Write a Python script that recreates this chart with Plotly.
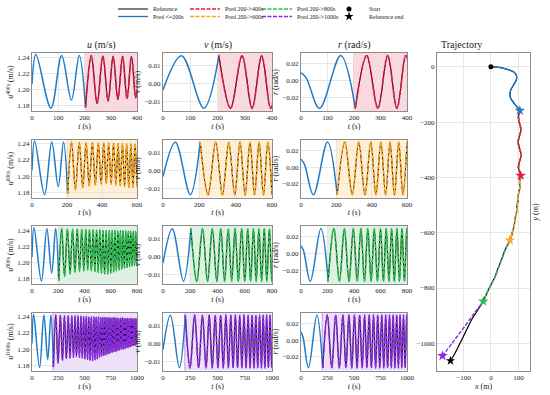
import plotly.graph_objects as go

W, H = 550, 395
FONT = "Liberation Serif, Times New Roman, serif"

# ---------------- data ----------------
horizons = [400, 600, 800, 1000]
pred_start = 200
pred_names = ["Pred 200->400s", "Pred 200->600s", "Pred 200->800s", "Pred 200->1000s"]
pred_colors = ["#e8194a", "#ffa61a", "#2dc04f", "#8a2be2"]
shade_colors = ["rgba(224,23,63,0.17)", "rgba(255,161,10,0.17)",
                "rgba(43,176,74,0.16)", "rgba(138,43,226,0.15)"]
edge_colors = ["rgba(224,23,63,0.45)", "rgba(255,161,10,0.45)",
               "rgba(43,176,74,0.45)", "rgba(138,43,226,0.45)"]
blue = "#1f7bc8"
row_xticks = [[0, 100, 200, 300, 400], [0, 200, 400, 600],
              [0, 200, 400, 600, 800], [0, 250, 500, 750, 1000]]
horizon_tags = ["400s", "600s", "800s", "1000s"]

# surge u (m/s): start, peaks, troughs
u_start_t = [0]
u_start_v = [1.207]
u_peak_t = [15, 113, 180, 226, 270, 309, 345, 379,
            410, 438, 466, 492, 517, 541, 565, 589,
            611, 633, 654, 674, 694, 714, 734, 752,
            772, 790, 808, 826, 844, 861, 878, 895,
            911, 927, 943, 959, 975, 990, 1006]
u_peak_v = [1.2435, 1.2425, 1.2425, 1.2422, 1.2418, 1.2415, 1.2413, 1.2412,
            1.2410, 1.2410, 1.2408, 1.2405, 1.2405, 1.2402, 1.2400, 1.2400,
            1.2398, 1.2398, 1.2396, 1.2395, 1.2395, 1.2393, 1.2392, 1.2390,
            1.2390, 1.2388, 1.2388, 1.2386, 1.2385, 1.2385, 1.2384, 1.2383,
            1.2382, 1.2381, 1.2380, 1.2380, 1.2379, 1.2378, 1.2378]
u_trough_t = [72, 150, 204, 248, 290, 327, 362, 395,
              424, 452, 479, 504, 529, 553, 577, 600,
              622, 643, 664, 684, 704, 724, 743, 762,
              781, 799, 817, 835, 852, 869, 886, 903,
              919, 935, 951, 967, 982, 998]
u_trough_v = [1.177, 1.187, 1.178, 1.183, 1.186, 1.188, 1.189, 1.190,
              1.191, 1.190, 1.189, 1.188, 1.187, 1.186, 1.186, 1.187,
              1.188, 1.190, 1.191, 1.192, 1.193, 1.194, 1.195, 1.196,
              1.197, 1.197, 1.198, 1.199, 1.200, 1.200, 1.201, 1.202,
              1.202, 1.203, 1.204, 1.205, 1.205, 1.206]

# sway v (m/s)
v_start_t = [0]
v_start_v = [-0.0035]
v_peak_t = [68, 205, 290, 362, 424, 479, 529, 577, 622, 664,
            704, 743, 781, 817, 852, 886, 919, 951, 982, 1013]
v_peak_v = [0.0158, 0.0158, 0.0158, 0.0157, 0.0158, 0.0157, 0.0158, 0.0158, 0.0157, 0.0158,
            0.0157, 0.0158, 0.0157, 0.0158, 0.0157, 0.0158, 0.0157, 0.0158, 0.0157, 0.0158]
v_trough_t = [150, 248, 327, 395, 452, 504, 553, 600, 643, 684,
              724, 762, 799, 835, 869, 903, 935, 967, 998]
v_trough_v = [-0.0137, -0.0138, -0.0138, -0.0138, -0.0138, -0.0137, -0.0138, -0.0138, -0.0137, -0.0138,
              -0.0138, -0.0137, -0.0138, -0.0138, -0.0137, -0.0138, -0.0138, -0.0137, -0.0138]

# yaw rate r (rad/s)
r_start_t = [0, 20]
r_start_v = [0.0095, 0.003]
r_peak_t = [150, 248, 327, 395, 452, 504, 553, 600, 643, 684,
            724, 762, 799, 835, 869, 903, 935, 967, 998]
r_peak_v = [0.0302, 0.0302, 0.0301, 0.0302, 0.0301, 0.0302, 0.0302, 0.0301, 0.0302, 0.0301,
            0.0302, 0.0302, 0.0301, 0.0302, 0.0301, 0.0302, 0.0302, 0.0301, 0.0302]
r_trough_t = [70, 205, 290, 362, 424, 479, 529, 577, 622, 664,
              704, 743, 781, 817, 852, 886, 919, 951, 982, 1013]
r_trough_v = [-0.0335, -0.0335, -0.0334, -0.0335, -0.0334, -0.0335, -0.0335, -0.0334, -0.0335, -0.0334,
              -0.0335, -0.0335, -0.0334, -0.0335, -0.0334, -0.0335, -0.0335, -0.0334, -0.0335, -0.0334]

# trajectory (m)
traj_blue_x = [0, 30, 63, 85, 93, 92, 82, 72, 69, 73, 81, 93, 105]
traj_blue_y = [0, -2, -10, -20, -33, -48, -66, -84, -102, -116, -127, -143, -158]
traj_red_x = [105, 100, 104, 109, 103, 99, 104, 110, 104, 100, 105, 108]
traj_red_y = [-158, -180, -205, -228, -252, -272, -296, -318, -342, -362, -382, -393]
traj_orange_x = [108, 104, 105, 100, 99, 94, 93, 87, 85, 79, 75, 69]
traj_orange_y = [-393, -415, -437, -460, -482, -505, -527, -550, -572, -594, -611, -627]
traj_green_x = [69, 60, 51, 42, 33, 24, 15, 3, -10, -19, -28]
traj_green_y = [-627, -645, -663, -688, -711, -735, -759, -783, -808, -828, -848]
traj_ref_tail_x = [-28, -45, -64, -83, -101, -116, -131, -147]
traj_ref_tail_y = [-848, -875, -904, -940, -977, -1007, -1037, -1063]
traj_purple_tail_x = [-28, -60, -100, -140, -176]
traj_purple_tail_y = [-848, -890, -945, -998, -1045]

# ---------------- helpers ----------------
def merge(st, sv, pt, pv, tt, tv):
    pts = sorted(list(zip(st, sv)) + list(zip(pt, pv)) + list(zip(tt, tv)))
    return [p[0] for p in pts], [p[1] for p in pts]

u_t, u_v = merge(u_start_t, u_start_v, u_peak_t, u_peak_v, u_trough_t, u_trough_v)
v_t, v_v = merge(v_start_t, v_start_v, v_peak_t, v_peak_v, v_trough_t, v_trough_v)
r_t, r_v = merge(r_start_t, r_start_v, r_peak_t, r_peak_v, r_trough_t, r_trough_v)

series = [(u_t, u_v), (v_t, v_v), (r_t, r_v)]
y_ranges = [[1.1735, 1.2455], [-0.0153, 0.0173], [-0.0367, 0.0332]]
y_ticks = [[1.18, 1.20, 1.22, 1.24], [-0.01, 0.0, 0.01], [-0.02, 0.0, 0.02]]

def first_at_or_after(ts, val):
    for i, t in enumerate(ts):
        if t >= val:
            return i
    return len(ts) - 1

col_px = [(32, 137), (163, 272), (301, 407)]
row_px = [(53, 111), (139.5, 197.5), (226, 284), (312.5, 370.5)]
traj_px = ((437, 530), (53, 371))

def dx(a, b):
    return [a / W, b / W]

def dy(top, bot):
    return [1 - bot / H, 1 - top / H]

fig = go.Figure()
layout = {}
shapes = []
grid_c = "#e6e6e6"
line_c = "#8c8c8c"
TXT = "#222222"
tickfont = dict(family=FONT, size=7, color=TXT)
titlefont = dict(family=FONT, size=8, color=TXT)

for i in range(4):
    Hz = horizons[i]
    for j in range(3):
        k = i * 3 + 1 + j
        xs = "x" if k == 1 else f"x{k}"
        ys = "y" if k == 1 else f"y{k}"
        t, val = series[j]
        s = first_at_or_after(t, pred_start)
        e = first_at_or_after(t, Hz)
        fig.add_trace(go.Scatter(x=t[:s + 1], y=val[:s + 1], mode="lines",
                                 line=dict(color=blue, width=1.5, shape="spline"),
                                 xaxis=xs, yaxis=ys, showlegend=False, hoverinfo="skip"))
        fig.add_trace(go.Scatter(x=t[s:e + 1], y=val[s:e + 1], mode="lines",
                                 line=dict(color="black", width=1.1, shape="spline"),
                                 xaxis=xs, yaxis=ys, showlegend=False, hoverinfo="skip"))
        fig.add_trace(go.Scatter(x=t[s:e + 1], y=val[s:e + 1], mode="lines",
                                 line=dict(color=pred_colors[i], width=1.6, shape="spline",
                                           dash="4px,1.5px"),
                                 xaxis=xs, yaxis=ys, showlegend=False, hoverinfo="skip"))
        shapes.append(dict(type="rect", xref=xs, yref=f"{ys} domain", x0=pred_start, x1=Hz,
                           y0=0, y1=1, fillcolor=shade_colors[i], line=dict(width=0),
                           layer="below"))
        shapes.append(dict(type="line", xref=xs, yref=f"{ys} domain", x0=pred_start, x1=pred_start,
                           y0=0, y1=1, line=dict(color=edge_colors[i], width=1), layer="below"))
        xname = "xaxis" if k == 1 else f"xaxis{k}"
        yname = "yaxis" if k == 1 else f"yaxis{k}"
        layout[xname] = dict(domain=dx(*col_px[j]), anchor=ys, range=[0, Hz],
                             tickvals=row_xticks[i], showgrid=True, gridcolor=grid_c, gridwidth=0.6,
                             showline=True, linecolor=line_c, linewidth=1, mirror=True,
                             zeroline=False, ticks="", tickfont=tickfont,
                             title=dict(text="<i>t</i> (s)", font=titlefont, standoff=1))
        if j == 0:
            ytitle = f"<i>u</i><sup>{horizon_tags[i]}</sup> (m/s)"
        elif j == 1:
            ytitle = "<i>v</i> (m/s)"
        else:
            ytitle = "<i>r</i> (rad/s)"
        layout[yname] = dict(domain=dy(*row_px[i]), anchor=xs, range=y_ranges[j],
                             tickvals=y_ticks[j], tickformat=".2f", showgrid=True,
                             gridcolor=grid_c, gridwidth=0.6,
                             showline=True, linecolor=line_c, linewidth=1, mirror=True,
                             zeroline=False, ticks="", tickfont=tickfont,
                             title=dict(text=ytitle, font=titlefont, standoff=2))

# ---------------- trajectory ----------------
ref_x = traj_blue_x + traj_red_x[1:] + traj_orange_x[1:] + traj_green_x[1:] + traj_ref_tail_x[1:]
ref_y = traj_blue_y + traj_red_y[1:] + traj_orange_y[1:] + traj_green_y[1:] + traj_ref_tail_y[1:]
p400_x, p400_y = traj_red_x, traj_red_y
p600_x, p600_y = p400_x + traj_orange_x[1:], p400_y + traj_orange_y[1:]
p800_x, p800_y = p600_x + traj_green_x[1:], p600_y + traj_green_y[1:]
p1000_x, p1000_y = p800_x + traj_purple_tail_x[1:], p800_y + traj_purple_tail_y[1:]
preds = [(p400_x, p400_y), (p600_x, p600_y), (p800_x, p800_y), (p1000_x, p1000_y)]

TX, TY = "x13", "y13"
legend_pos = {
    "legend": (113, 9), "legend2": (113, 16.5),
    "legend3": (185, 9), "legend4": (185, 16.5),
    "legend5": (257, 9), "legend6": (257, 16.5),
    "legend7": (329, 9), "legend8": (329, 16.5),
}
fig.add_trace(go.Scatter(x=ref_x, y=ref_y, mode="lines", name="Reference",
                         line=dict(color="black", width=1.2, shape="spline"),
                         xaxis=TX, yaxis=TY, legend="legend", hoverinfo="skip"))
pred_legends = ["legend3", "legend4", "legend5", "legend6"]
for idx in [3, 2, 1, 0]:
    px_, py_ = preds[idx]
    fig.add_trace(go.Scatter(x=px_, y=py_, mode="lines", name=pred_names[idx],
                             line=dict(color=pred_colors[idx], width=1.4, shape="spline",
                                       dash="4px,1.5px"),
                             xaxis=TX, yaxis=TY, legend=pred_legends[idx], hoverinfo="skip"))
fig.add_trace(go.Scatter(x=traj_blue_x, y=traj_blue_y, mode="lines", name="Pred <=200s",
                         line=dict(color=blue, width=1.3, shape="spline"),
                         xaxis=TX, yaxis=TY, legend="legend2", hoverinfo="skip"))
# end stars
fig.add_trace(go.Scatter(x=[traj_blue_x[-1]], y=[traj_blue_y[-1]], mode="markers",
                         marker=dict(symbol="star", size=8, color=blue),
                         xaxis=TX, yaxis=TY, showlegend=False, hoverinfo="skip"))
for idx in range(4):
    px_, py_ = preds[idx]
    fig.add_trace(go.Scatter(x=[px_[-1]], y=[py_[-1]], mode="markers",
                             marker=dict(symbol="star", size=8, color=pred_colors[idx]),
                             xaxis=TX, yaxis=TY, showlegend=False, hoverinfo="skip"))
fig.add_trace(go.Scatter(x=[ref_x[-1]], y=[ref_y[-1]], mode="markers", name="Reference end",
                         marker=dict(symbol="star", size=7, color="black"),
                         xaxis=TX, yaxis=TY, legend="legend8", hoverinfo="skip"))
fig.add_trace(go.Scatter(x=[ref_x[0]], y=[ref_y[0]], mode="markers", name="Start",
                         marker=dict(symbol="circle", size=5, color="black"),
                         xaxis=TX, yaxis=TY, legend="legend7", hoverinfo="skip"))

layout["xaxis13"] = dict(domain=dx(*traj_px[0]), anchor=TY, range=[-196, 142],
                         tickvals=[-100, 0, 100], showgrid=True, gridcolor=grid_c, gridwidth=0.6,
                         showline=True, linecolor=line_c, linewidth=1, mirror=True,
                         zeroline=False, ticks="", tickfont=tickfont,
                         title=dict(text="<i>x</i> (m)", font=titlefont, standoff=1))
layout["yaxis13"] = dict(domain=dy(*traj_px[1]), anchor=TX, range=[-1100, 50],
                         tickvals=[0, -200, -400, -600, -800, -1000], showgrid=True,
                         gridcolor=grid_c, gridwidth=0.6,
                         showline=True, linecolor=line_c, linewidth=1, mirror=True,
                         zeroline=False, ticks="", tickfont=tickfont)

for name, (lx, ly) in legend_pos.items():
    layout[name] = dict(x=lx / W, y=1 - ly / H, xanchor="left", yanchor="middle",
                        bgcolor="rgba(0,0,0,0)", borderwidth=0, itemwidth=30,
                        font=dict(family=FONT, size=6, color=TXT))

col_titles = ["<i>u</i> (m/s)", "<i>v</i> (m/s)", "<i>r</i> (rad/s)"]
annotations = []
for j in range(3):
    annotations.append(dict(text=col_titles[j], x=(col_px[j][0] + col_px[j][1]) / 2 / W,
                            y=1 - 45 / H, xref="paper", yref="paper", showarrow=False,
                            font=dict(family=FONT, size=10, color=TXT), yanchor="middle"))
annotations.append(dict(text="Trajectory", x=(traj_px[0][0] + traj_px[0][1]) / 2 / W,
                        y=1 - 45 / H, xref="paper", yref="paper", showarrow=False,
                        font=dict(family=FONT, size=10, color=TXT), yanchor="middle"))
annotations.append(dict(text="<i>y</i> (m)", x=541 / W, y=1 - 213 / H, xref="paper",
                        yref="paper", showarrow=False, textangle=-90,
                        font=dict(family=FONT, size=8, color=TXT)))

fig.update_layout(template="none", width=W, height=H,
                  margin=dict(l=0, r=0, t=0, b=0, autoexpand=False),
                  paper_bgcolor="white", plot_bgcolor="white",
                  font=dict(family=FONT, size=7, color=TXT),
                  shapes=shapes, annotations=annotations, **layout)

fig.write_html("out.html", config={"displayModeBar": False},
               post_script="document.body.style.margin='0';")
